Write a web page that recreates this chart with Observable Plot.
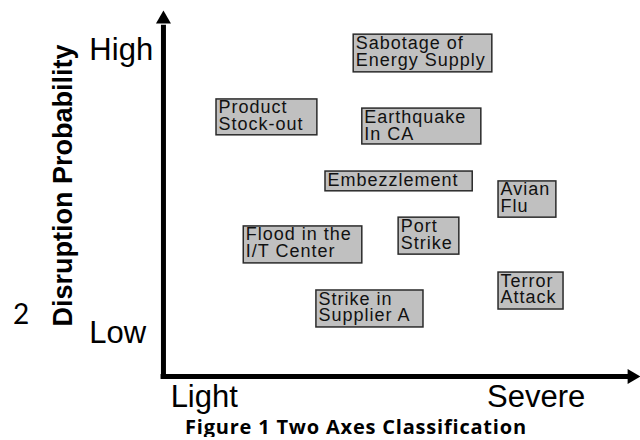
<!DOCTYPE html>
<html>
<head>
<meta charset="utf-8">
<script src="https://cdn.jsdelivr.net/npm/d3@7"></script>
<script src="https://cdn.jsdelivr.net/npm/@observablehq/plot@0.6"></script>
<style>
  html, body { margin: 0; padding: 0; background: #fff; }
  #chart svg { display: block; overflow: visible; }
  #chart g[font-size="18"] text { letter-spacing: 1px; }
  #caption { font-family: "Open Sans", Lato, sans-serif; font-weight: bold; font-size: 20px; line-height: 20px; letter-spacing: 0.8px; margin-top: 1px; margin-left: 185px; color: #000; white-space: nowrap; }
</style>
</head>
<body>
<div id="chart"></div>
<div id="caption">Figure 1 Two Axes Classification</div>
<script>
// Risk categories (box labels)
const risks = ["Sabotage of\nEnergy Supply", "Product\nStock-out", "Earthquake\nIn CA", "Embezzlement", "Avian\nFlu", "Port\nStrike", "Flood in the\nI/T Center", "Strike in\nSupplier A", "Terror\nAttack"];
// Severity extent of each box (0 = light, 100 = severe)
const severityFrom = [40.0, 11.3, 41.8, 34.1, 70.3, 49.4, 17.0, 32.2, 70.3];
const severityTo   = [69.0, 32.4, 66.7, 64.9, 82.4, 62.1, 41.8, 54.6, 83.9];
// Disruption probability extent of each box (0 = low, 100 = high)
const probabilityTop    = [93.4, 75.7, 73.2, 56.0, 53.3, 43.4, 41.0, 23.5, 28.4];
const probabilityBottom = [83.1, 65.9, 63.4, 50.6, 43.4, 33.3, 30.9, 13.4, 18.3];
// Axis tick labels
const xTickLabels = ["Light", "Severe"];
const xTickValues = [1.7, 67.9];
const yTickLabels = ["High", "Low"];
const yTickValues = [89.1, 12.0];
const yAxisLabel = "Disruption Probability";
const pageNumber = "2";

const boxes = risks.map((name, i) => ({
  name, x1: severityFrom[i], x2: severityTo[i], y1: probabilityBottom[i], y2: probabilityTop[i]
}));
const xTicks = xTickLabels.map((label, i) => ({label, value: xTickValues[i]}));
const yTicks = yTickLabels.map((label, i) => ({label, value: yTickValues[i]}));

const upTriangle = {draw(ctx) { ctx.moveTo(0, -8.7); ctx.lineTo(7.5, 4.3); ctx.lineTo(-7.5, 4.3); ctx.closePath(); }};
const rightTriangle = {draw(ctx) { ctx.moveTo(8.7, 0); ctx.lineTo(-4.3, 7.5); ctx.lineTo(-4.3, -7.5); ctx.closePath(); }};

const sans = "'Liberation Sans', Arial, sans-serif";

const chart = Plot.plot({
  width: 640,
  height: 416,
  marginLeft: 162,
  marginRight: 0,
  marginTop: 10,
  marginBottom: 40,
  x: {domain: [0, 100], axis: null},
  y: {domain: [0, 100], axis: null},
  style: {fontFamily: sans, background: "#fff", color: "#000"},
  marks: [
    // axes
    Plot.ruleX([0.2], {y1: -0.7, y2: 96, stroke: "#000", strokeWidth: 5}),
    Plot.ruleY([0], {x1: -0.3, x2: 97.5, stroke: "#000", strokeWidth: 5}),
    Plot.dot([0], {x: 0.2, y: 97.6, symbol: upTriangle, r: 5, fill: "#000", stroke: null}),
    Plot.dot([0], {x: 98.2, y: 0, symbol: rightTriangle, r: 5, fill: "#000", stroke: null}),
    // tick labels
    Plot.text(yTicks, {x: -15.3, y: "value", text: "label", textAnchor: "start", fontSize: 31, fill: "#000", fontFamily: sans}),
    Plot.text(xTicks, {x: "value", y: -5.7, text: "label", textAnchor: "start", fontSize: 31, fill: "#000", fontFamily: sans}),
    Plot.text([yAxisLabel], {frameAnchor: "left", textAnchor: "middle", dx: -99.6, dy: -8, rotate: -90, fontSize: 27, fontWeight: "bold", fill: "#000", fontFamily: sans}),
    Plot.text([pageNumber], {x: -31.3, y: 16.9, textAnchor: "start", fontSize: 28, fill: "#000", fontFamily: "Lato, 'Open Sans', sans-serif"}),
    // risk boxes
    Plot.rect(boxes, {x1: "x1", x2: "x2", y1: "y1", y2: "y2", fill: "#c0c0c0", stroke: "#2a2a2a", strokeWidth: 1.5}),
    Plot.text(boxes, {x: "x1", y: "y2", text: "name", textAnchor: "start", lineAnchor: "top", lineHeight: 0.94, dx: 2, dy: 2, fontSize: 18, fill: "#111", fontFamily: sans})
  ]
});
document.getElementById("chart").append(chart);
</script>
</body>
</html>
